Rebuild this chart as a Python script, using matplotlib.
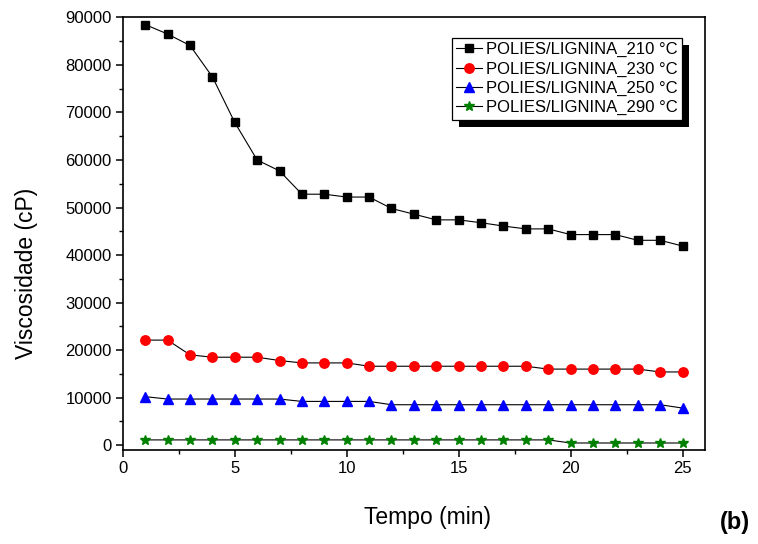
import matplotlib
matplotlib.use("Agg")
import matplotlib.pyplot as plt
from matplotlib.patches import Rectangle
from matplotlib.ticker import MultipleLocator

plt.rcParams['font.family'] = ['Liberation Sans', 'DejaVu Sans']

# Time (min)
tempo = list(range(1, 26))

# Viscosity (cP) at each processing temperature
visc_210 = [88500, 86500, 84100, 77500, 67900, 60000, 57700, 52800, 52800, 52200,
            52200, 49800, 48600, 47400, 47400, 46800, 46100, 45500, 45500, 44300,
            44300, 44300, 43100, 43100, 41900]
visc_230 = [22100, 22100, 19000, 18500, 18500, 18500, 17800, 17300, 17300, 17300,
            16600, 16600, 16600, 16600, 16600, 16600, 16600, 16600, 16000, 16000,
            16000, 16000, 16000, 15400, 15400]
visc_250 = [10200, 9700, 9700, 9700, 9700, 9700, 9700, 9200, 9200, 9200,
            9200, 8500, 8500, 8500, 8500, 8500, 8500, 8500, 8500, 8500,
            8500, 8500, 8500, 8500, 7800]
visc_290 = [1100, 1100, 1100, 1100, 1100, 1100, 1100, 1100, 1100, 1100,
            1100, 1100, 1100, 1100, 1100, 1100, 1100, 1100, 1100, 450,
            450, 450, 450, 450, 450]

labels = ['POLIES/LIGNINA_210 °C', 'POLIES/LIGNINA_230 °C',
          'POLIES/LIGNINA_250 °C', 'POLIES/LIGNINA_290 °C']

fig = plt.figure(figsize=(7.58, 5.44), dpi=100)
ax = fig.add_axes([0.162, 0.173, 0.768, 0.795])

series = [
    (visc_210, 's', 'black', 5.5),
    (visc_230, 'o', 'red', 6.8),
    (visc_250, '^', 'blue', 7.0),
    (visc_290, '*', 'green', 7.5),
]
for (vals, mk, col, ms), lab in zip(series, labels):
    ax.plot(tempo, vals, color='black', lw=0.8, marker=mk, markersize=ms,
            markerfacecolor=col, markeredgecolor=col, label=lab)

ax.set_xlim(0, 26)
ax.set_ylim(-1000, 90000)
ax.xaxis.set_major_locator(MultipleLocator(5))
ax.xaxis.set_minor_locator(MultipleLocator(2.5))
ax.yaxis.set_major_locator(MultipleLocator(10000))
ax.yaxis.set_minor_locator(MultipleLocator(5000))
ax.set_yticks(range(0, 90001, 10000))

ax.tick_params(which='major', direction='out', length=5, width=1.1,
               labelsize=12, pad=3)
ax.tick_params(which='minor', direction='out', length=3, width=1.0)
for sp in ax.spines.values():
    sp.set_linewidth(1.2)

ax.set_xlabel('Tempo (min)', fontsize=16.5, va='center')
ax.xaxis.set_label_coords(0.524, -0.157)
ax.set_ylabel('Viscosidade (cP)', fontsize=16.5, va='center')
ax.yaxis.set_label_coords(-0.166, 0.409)

leg = ax.legend(loc='upper right', bbox_to_anchor=(0.9605, 0.953),
                fontsize=12, frameon=True, fancybox=False, framealpha=1,
                edgecolor='black', borderpad=0.25, labelspacing=0.26,
                handlelength=1.55, handletextpad=0.25, borderaxespad=0)
leg.get_frame().set_linewidth(0.9)
leg.set_zorder(6)

# solid drop shadow behind the legend box
fig.canvas.draw()
bb = leg.get_window_extent().transformed(ax.transAxes.inverted())
dx = 7 / (ax.bbox.width)
dy = 7 / (ax.bbox.height)
ax.add_patch(Rectangle((bb.x0 + dx, bb.y0 - dy), bb.width, bb.height,
                       transform=ax.transAxes, facecolor='black',
                       edgecolor='none', clip_on=False, zorder=5.5))

fig.text(0.970, 0.039, '(b)', fontsize=17, fontweight='bold',
         ha='center', va='center')

fig.savefig('out.png', dpi=100)
